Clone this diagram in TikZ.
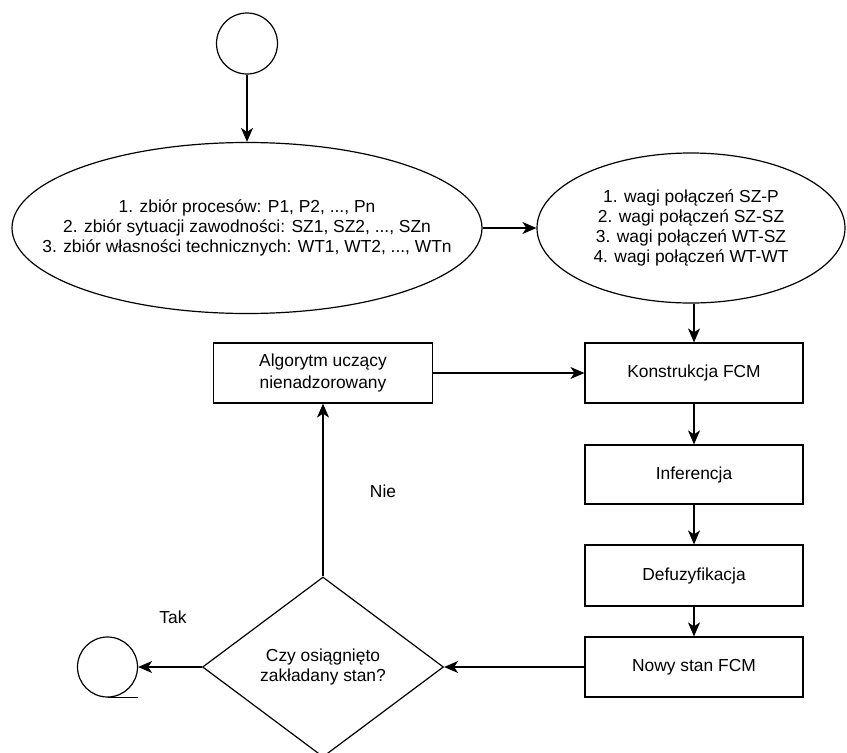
\documentclass[tikz,border=0pt]{standalone}
\usepackage{fontspec}
\setmainfont{Liberation Sans}
\usetikzlibrary{shapes.geometric,arrows.meta}

\begin{document}
\begin{tikzpicture}[x=1pt,y=-1pt,
  line width=1.2pt,
  every node/.style={font=\fontsize{17.4}{20.2}\selectfont, align=center, inner sep=0pt},
  terminal/.style={draw, circle, minimum size=61pt},
  datablob/.style={draw, ellipse},
  process/.style={draw, rectangle, minimum width=218pt, minimum height=60pt},
  decision/.style={draw, diamond, aspect=1.34, minimum width=241pt, minimum height=180pt},
  flow/.style={-{Stealth[length=14pt,width=12pt,inset=4pt]}},
  lbl/.style={font=\fontsize{17.4}{20.2}\selectfont}]

  \useasboundingbox (0,0) rectangle (847,753);

  % start and input data (ellipse outlines, text set on top)
  \node[terminal] (start) at (247,43.5) {};
  \node[datablob, minimum width=470pt, minimum height=171pt] (sets) at (247,228) {};
  \node (setstext) at (sets.center)
    {1. zbiór procesów: P1, P2, ..., Pn\\
     2. zbiór sytuacji zawodności: SZ1, SZ2, ..., SZn\\
     3. zbiór własności technicznych: WT1, WT2, ..., WTn};
  \node[datablob, minimum width=308pt, minimum height=150pt] (weights) at (691,228) {};
  \node (weightstext) at (weights.center)
    {1. wagi połączeń SZ-P\\
     2. wagi połączeń SZ-SZ\\
     3. wagi połączeń WT-SZ\\
     4. wagi połączeń WT-WT};

  % processing chain
  \node[process] (build) at (694,373) {Konstrukcja FCM};
  \node[process, minimum height=59pt] (infer) at (694,474.5) {Inferencja};
  \node[process, minimum height=61pt] (defuz) at (694,575.5) {Defuzyfikacja};
  \node[process] (newstate) at (694,667) {Nowy stan FCM};
  \node[process, minimum width=219pt, font=\fontsize{17.4}{21.5}\selectfont] (learn) at (323,373)
    {Algorytm uczący\\nienadzorowany};

  % decision and end
  \node[decision] (check) at (323,667) {Czy osiągnięto\\zakładany stan?};
  \node[terminal, minimum size=60pt] (stop) at (107.5,667) {};
  \draw (stop.south) -- (stop.south -| stop.east);

  % connectors
  \draw[flow] (start) -- (sets);
  \draw[flow] (sets) -- (weights);
  \draw[flow] (weights.south -| build.north) -- (build);
  \draw[flow] (build) -- (infer);
  \draw[flow] (infer) -- (defuz);
  \draw[flow] (defuz) -- (newstate);
  \draw[flow] (newstate) -- (check);
  \draw[flow] (check) -- (stop);
  \draw[flow] (check) -- (learn);
  \draw[flow] (learn) -- (build);

  % branch labels
  \node[lbl] (yes) at (173,617) {Tak};
  \node[lbl] (no) at (383,491) {Nie};
\end{tikzpicture}
\end{document}
